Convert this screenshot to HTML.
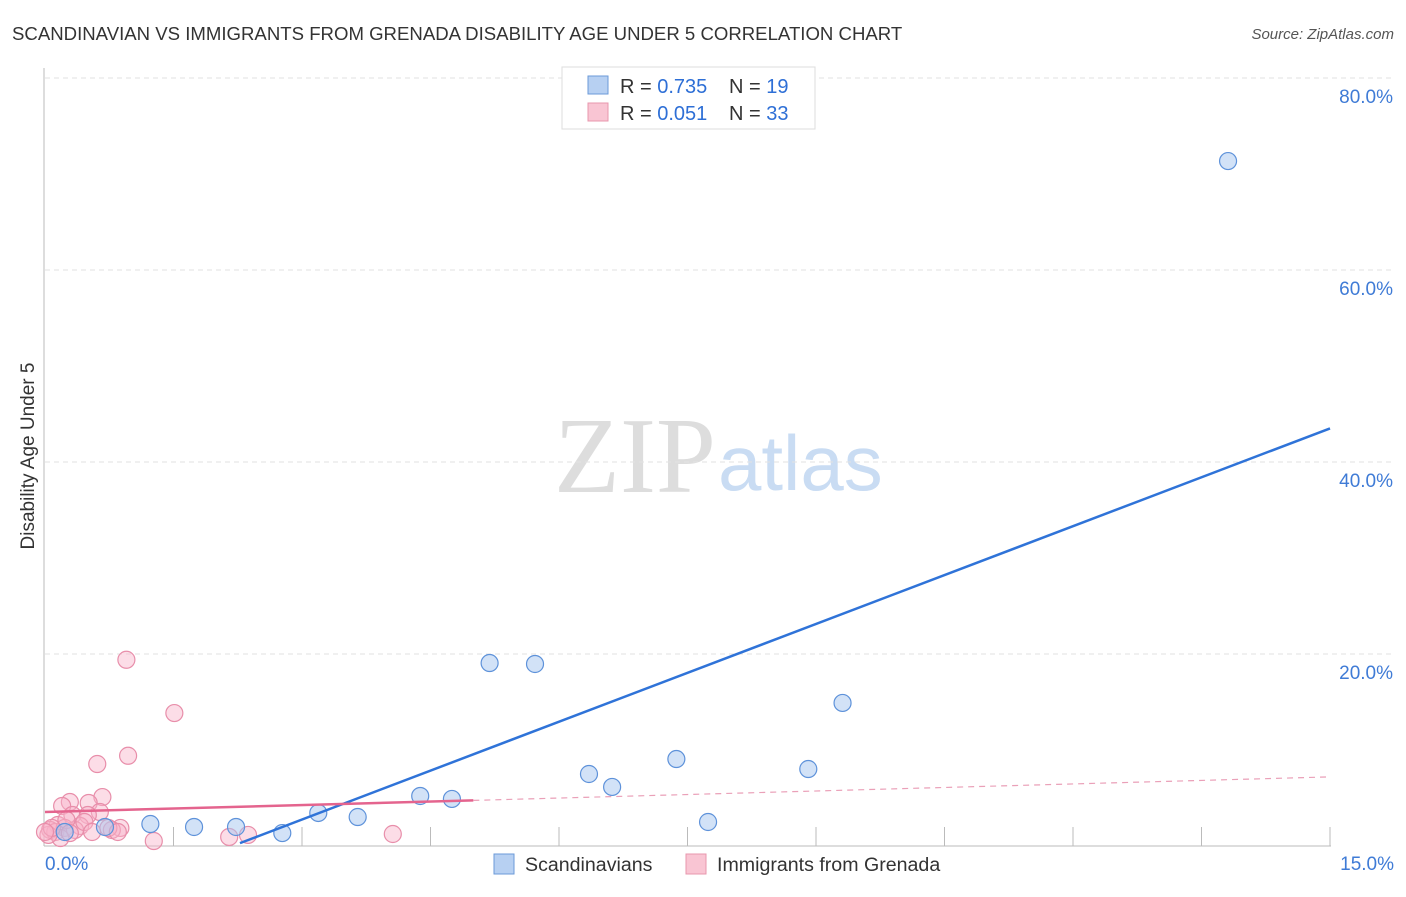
<!DOCTYPE html>
<html><head><meta charset="utf-8"><style>
body{margin:0;background:#fff;font-family:"Liberation Sans",sans-serif;}
</style></head><body>
<svg width="1406" height="892" viewBox="0 0 1406 892" xmlns="http://www.w3.org/2000/svg" style="font-family:'Liberation Sans',sans-serif">
<text x="12" y="40" font-size="18.6" fill="#333">SCANDINAVIAN VS IMMIGRANTS FROM GRENADA DISABILITY AGE UNDER 5 CORRELATION CHART</text>
<text x="1394" y="39" font-size="15" fill="#555" text-anchor="end" font-style="italic">Source: ZipAtlas.com</text>
<g>
<text x="635" y="492" font-size="108" font-family="Liberation Serif,serif" fill="#ddd" text-anchor="middle">ZIP</text>
<text x="718" y="490" font-size="78" fill="#c9dcf3">atlas</text>
</g>
<g id="grid"></g>
<g id="axes"></g>
<text transform="translate(34,456) rotate(-90)" font-size="19" fill="#333" text-anchor="middle">Disability Age Under 5</text>
<g id="marks"></g>
<g>
<rect x="562" y="67" width="253" height="62" fill="#fff" stroke="#ddd"/>
<rect x="588" y="76" width="20" height="18" fill="#b7d0f2" stroke="#6b9ad8"/>
<rect x="588" y="103" width="20" height="18" fill="#f9c5d3" stroke="#e897ae"/>
<text x="620" y="93" font-size="20" fill="#333">R = <tspan fill="#2e6fd6">0.735</tspan></text>
<text x="729" y="93" font-size="20" fill="#333">N = <tspan fill="#2e6fd6">19</tspan></text>
<text x="620" y="120" font-size="20" fill="#333">R = <tspan fill="#2e6fd6">0.051</tspan></text>
<text x="729" y="120" font-size="20" fill="#333">N = <tspan fill="#2e6fd6">33</tspan></text>
</g>
<g>
<rect x="494" y="854" width="20" height="20" fill="#b7d0f2" stroke="#6b9ad8"/>
<text x="525" y="871" font-size="19.6" fill="#333">Scandinavians</text>
<rect x="686" y="854" width="20" height="20" fill="#f9c5d3" stroke="#e897ae"/>
<text x="717" y="871" font-size="19.6" fill="#333">Immigrants from Grenada</text>
</g>
</svg>
<script>
const yTicks=[20,40,60,80];
const yTickLabels=["20.0%","40.0%","60.0%","80.0%"];
const xTickLabels=["0.0%","15.0%"];
const blueX=[13.81,5.19,5.72,9.31,7.37,6.35,6.62,8.91,4.38,4.75,3.19,3.65,7.74,1.23,1.74,2.23,2.77,0.70,0.23];
const blueY=[71.35,19.06,18.96,14.9,9.06,7.5,6.15,8.02,5.21,4.9,3.44,3.02,2.5,2.29,1.98,1.98,1.35,1.98,1.46];
const pinkX=[0.95,1.51,0.97,0.61,0.67,0.29,0.51,0.2,0.64,0.32,0.5,0.88,0.78,0.15,0.06,0.12,0.23,0.41,0.35,1.27,2.15,2.37,4.06,0.18,0.04,0.74,0.46,0.25,0.08,0.29,0.55,0,0.85];
const pinkY=[19.4,13.85,9.4,8.54,5.1,4.58,4.48,4.17,3.54,3.23,3.23,1.88,1.67,2.19,1.67,1.46,1.88,2.08,1.67,0.52,0.94,1.15,1.25,0.83,1.15,1.88,2.5,2.71,1.88,1.35,1.46,1.46,1.46];
const blueFit=[[2.276,0.3],[15,43.5]];
const pinkFit=[[0,3.54],[5,4.75],[15,7.2]];
const NS="http://www.w3.org/2000/svg";
const X=v=>45+v/15*1285, Y=v=>846-v/20*192;
function mk(t,a,p){const e=document.createElementNS(NS,t);for(const k in a)e.setAttribute(k,a[k]);p.appendChild(e);return e;}
const grid=document.getElementById('grid'),axes=document.getElementById('axes'),marks=document.getElementById('marks');
yTicks.forEach((v,i)=>{
 const l=mk('line',{x1:45,x2:1394,y1:Y(v),y2:Y(v),stroke:'#e2e2e2','stroke-dasharray':'5,4'},grid);
 
 
 const t=mk('text',{x:1393,y:Y(v)+25,'font-size':19,fill:'#3f7bd6','text-anchor':'end'},axes);
 t.textContent=yTickLabels[i];
 
 
});
mk('line',{x1:44,x2:44,y1:68,y2:846,stroke:'#bbb'},axes);
mk('line',{x1:44,x2:1331,y1:846,y2:846,stroke:'#bbb'},axes);
for(let i=1;i<=10;i++){const x=X(i*1.5);mk('line',{x1:x,x2:x,y1:827,y2:846,stroke:'#bbb'},axes);}
[[0,'start',45],[15,'end',1394]].forEach((d,i)=>{
 const t=mk('text',{x:d[2],y:870,'font-size':19,fill:'#3f7bd6','text-anchor':d[1]},axes);
 t.textContent=xTickLabels[i];
 
 
});
pinkX.forEach((x,i)=>{
 const c=mk('circle',{cx:X(x),cy:Y(pinkY[i]),r:8.5,fill:'rgba(248,180,202,0.45)',stroke:'#e88eaa','stroke-width':1.2},marks);
 
 
});
blueX.forEach((x,i)=>{
 const c=mk('circle',{cx:X(x),cy:Y(blueY[i]),r:8.5,fill:'rgba(165,198,240,0.5)',stroke:'#5e92da','stroke-width':1.2},marks);
 
 
});
const bl=mk('line',{x1:X(blueFit[0][0]),y1:Y(blueFit[0][1]),x2:X(blueFit[1][0]),y2:Y(blueFit[1][1]),stroke:'#2f73d8','stroke-width':2.5},marks);


const p1=mk('line',{x1:X(pinkFit[0][0]),y1:Y(pinkFit[0][1]),x2:X(pinkFit[1][0]),y2:Y(pinkFit[1][1]),stroke:'#e4648e','stroke-width':2.5},marks);


const p2=mk('line',{x1:X(pinkFit[1][0]),y1:Y(pinkFit[1][1]),x2:X(pinkFit[2][0]),y2:Y(pinkFit[2][1]),stroke:'#eaa0b8','stroke-width':1.2,'stroke-dasharray':'6,5'},marks);


</script>
</body></html>
